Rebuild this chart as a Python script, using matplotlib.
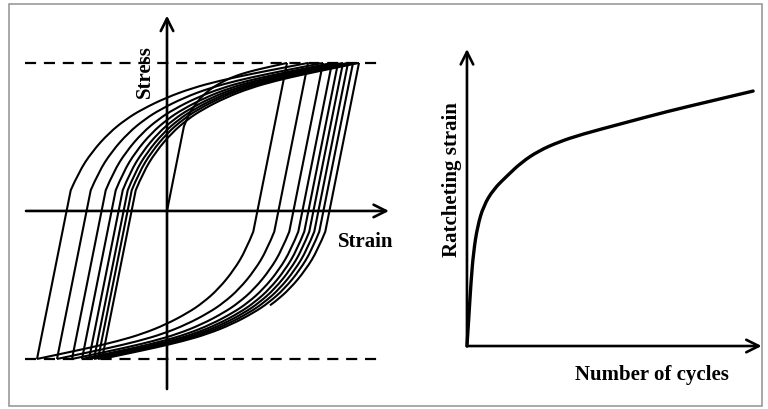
import numpy as np
import matplotlib.pyplot as plt
from matplotlib.patches import Rectangle, PathPatch
from matplotlib.path import Path

# left panel: stress-strain loops (schematic units)
top_strain = [1.20, 1.41, 1.56, 1.65, 1.71, 1.76, 1.81, 1.86, 1.92]      # reversal points at max stress
bottom_strain = [-1.30, -1.10, -0.95, -0.85, -0.78, -0.73, -0.69, -0.65, -0.62]  # reversal points at min stress
last_stop = 1.03          # last unloading branch is drawn only down to this strain
peak_stress = 1.0
yield_stress = 0.57
modulus = 3.38

# normalised shape of a plastic branch
shape_u = [0, 0.034, 0.089, 0.161, 0.233, 0.301, 0.403, 0.513, 0.627, 0.754, 0.881, 1.0]
shape_v = [0, 0.143, 0.300, 0.450, 0.558, 0.636, 0.728, 0.803, 0.860, 0.911, 0.957, 1.0]

# right panel: ratcheting strain vs number of cycles
cycles = [0, 0.7, 1.4, 2.3, 3.7, 5.8, 9.3, 14, 19, 25, 32, 40, 55, 70, 85, 100]
ratchet = [0, 0.12, 0.25, 0.37, 0.47, 0.55, 0.615, 0.667, 0.72, 0.765, 0.80, 0.83, 0.875, 0.92, 0.96, 1.0]

plt.rcParams['font.family'] = ['Liberation Serif', 'DejaVu Serif']
lw = 1.5
fig = plt.figure(figsize=(7.68, 4.10), dpi=100)


def smooth_curve(ax, xs, ys, start_line=None, **kw):
    # chain of quadratic beziers through the midpoints of the given points
    verts, codes = [], []
    if start_line is not None:
        verts.append(start_line)
        codes.append(Path.MOVETO)
        verts.append((xs[0], ys[0]))
        codes.append(Path.LINETO)
    else:
        verts.append((xs[0], ys[0]))
        codes.append(Path.MOVETO)
    n = len(xs)
    if n == 2:
        verts.append((xs[1], ys[1]))
        codes.append(Path.LINETO)
    for i in range(1, n - 1):
        verts.append((xs[i], ys[i]))
        if i < n - 2:
            verts.append(((xs[i] + xs[i + 1]) / 2, (ys[i] + ys[i + 1]) / 2))
        else:
            verts.append((xs[i + 1], ys[i + 1]))
        codes += [Path.CURVE3, Path.CURVE3]
    ax.add_patch(PathPatch(Path(verts, codes), fill=False, **kw))


ax1 = fig.add_axes([0, 0, 400 / 768, 1])
ax1.set_xlim(-1.67, 2.33)
ax1.set_ylim(-1.338, 1.432)
ax1.axis('off')

u = np.array(shape_u)
v = np.array(shape_v)


def plastic(e0, s0, e1, s1, ustop=1.0):
    uu = u[u < ustop]
    vv = v[u < ustop]
    uu = np.append(uu, ustop)
    vv = np.append(vv, np.interp(ustop, u, v))
    return e0 + uu * (e1 - e0), s0 + vv * (s1 - s0)


style = dict(edgecolor='black', lw=lw, joinstyle='miter')
de = 2 * yield_stress / modulus
# initial loading
k_e, k_s = yield_stress / modulus, yield_stress
ex, sx = plastic(k_e, k_s, top_strain[0], peak_stress)
smooth_curve(ax1, ex, sx, start_line=(0, 0), **style)

for i in range(len(top_strain)):
    # unloading from the top
    k_e = top_strain[i] - de
    k_s = peak_stress - 2 * yield_stress
    if i < len(top_strain) - 1:
        ex, sx = plastic(k_e, k_s, bottom_strain[i], -peak_stress)
    else:
        stop = (k_e - last_stop) / (k_e - bottom_strain[i])
        ex, sx = plastic(k_e, k_s, bottom_strain[i], -peak_stress, stop)
    smooth_curve(ax1, ex, sx, start_line=(top_strain[i], peak_stress), **style)
    # reloading from the bottom
    if i < len(top_strain) - 1:
        k_e = bottom_strain[i] + de
        k_s = -peak_stress + 2 * yield_stress
        ex, sx = plastic(k_e, k_s, top_strain[i + 1], peak_stress)
        smooth_curve(ax1, ex, sx, start_line=(bottom_strain[i], -peak_stress), **style)

for s in [peak_stress, -peak_stress]:
    ax1.plot([-1.42, 2.11], [s, s], color='black', lw=1.6, linestyle=(0, (5, 3.5)))

arrow = dict(arrowstyle='->,head_length=0.9,head_width=0.45', color='black', lw=1.9, shrinkA=0, shrinkB=0)
ax1.annotate('', xy=(2.22, 0), xytext=(-1.41, 0), arrowprops=arrow)
ax1.annotate('', xy=(0, 1.32), xytext=(0, -1.203), arrowprops=arrow)
ax1.text(-0.22, 0.95, 'Stress', rotation=90, ha='center', va='center', fontsize=15, fontweight='bold')
ax1.text(1.99, -0.2, 'Strain', ha='center', va='center', fontsize=15, fontweight='bold')

ax2 = fig.add_axes([400 / 768, 0, 368 / 768, 1])
ax2.set_xlim(-23.4, 105.2)
ax2.set_ylim(-0.247, 1.361)
ax2.axis('off')
smooth_curve(ax2, cycles, ratchet, edgecolor='black', lw=2.4, capstyle='round')
ax2.annotate('', xy=(103, 0), xytext=(0, 0), arrowprops=arrow)
ax2.annotate('', xy=(0, 1.165), xytext=(0, 0), arrowprops=arrow)
ax2.text(-5.2, 0.655, 'Ratcheting strain', rotation=90, ha='center', va='center', fontsize=15, fontweight='bold')
ax2.text(64.7, -0.11, 'Number of cycles', ha='center', va='center', fontsize=15, fontweight='bold')

fig.patches.append(Rectangle((9 / 768, 3 / 410), 753 / 768, 402 / 410, transform=fig.transFigure,
                             fill=False, edgecolor='#999999', lw=1.2))

plt.savefig('out.png', dpi=100)
